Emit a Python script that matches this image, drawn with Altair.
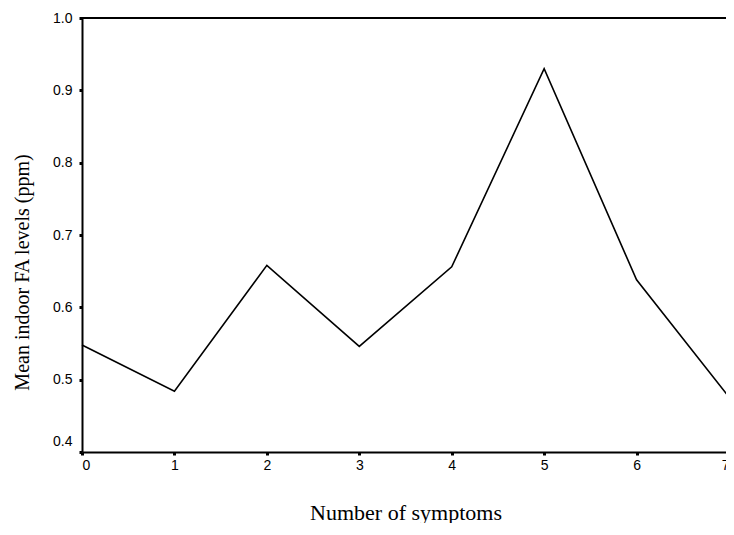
import altair as alt
import pandas as pd

symptoms = [0, 1, 2, 3, 4, 5, 6, 7]
fa_levels = [0.548, 0.484, 0.658, 0.546, 0.656, 0.930, 0.638, 0.476]
y_ticks = [0.4, 0.5, 0.6, 0.7, 0.8, 0.9, 1.0]
x_ticks = [0, 1, 2, 3, 4, 5, 6, 7]
top_value = [1.0]

df = pd.DataFrame({"symptoms": symptoms, "fa": fa_levels})
top_df = pd.DataFrame({"top": top_value})

x_scale = alt.Scale(domain=[0, 7], range=[0, 647], nice=False, zero=False)
y_scale = alt.Scale(domain=[0.4, 1.0], nice=False, zero=False)

x_axis = alt.Axis(
    values=x_ticks, format="d", title="Number of symptoms",
    labelFont="Liberation Sans", labelFontSize=14, labelColor="black",
    labelPadding=3, tickSize=3, tickWidth=3, tickColor="black",
    domainColor="black", domainWidth=2, grid=False,
    titleFont="Liberation Serif", titleFontSize=22, titleFontWeight="normal",
    titleColor="black", titleBaseline="middle", titleY=60,
)
y_axis = alt.Axis(
    values=y_ticks, format=".1f", title="Mean indoor FA levels (ppm)",
    labelFont="Liberation Sans", labelFontSize=14, labelColor="black",
    labelPadding=7, tickSize=3, tickWidth=3, tickColor="black",
    domainColor="black", domainWidth=2, grid=False,
    labelOffset={"condition": {"test": "datum.value <= 0.4", "value": -11}, "value": 0},
    titleFont="Liberation Serif", titleFontSize=20, titleFontWeight="normal",
    titleColor="black", titleBaseline="middle", titleX=-60, titleY=254,
)

line = alt.Chart(df).mark_line(color="black", strokeWidth=1.6).encode(
    x=alt.X("symptoms:Q", scale=x_scale, axis=x_axis),
    y=alt.Y("fa:Q", scale=y_scale, axis=y_axis),
)

top = alt.Chart(top_df).mark_rule(color="black", strokeWidth=2).encode(
    y=alt.Y("top:Q", scale=y_scale),
    x=alt.value(0),
    x2=alt.value(644),
)

chart = alt.layer(line, top).properties(
    width=644, height=434,
    autosize=alt.AutoSizeParams(type="none"),
    padding={"left": 74, "top": 10, "right": 0, "bottom": 71},
    background="white",
).configure_view(stroke=None)

chart.save("out.html", embed_options={"renderer": "svg", "actions": False})
